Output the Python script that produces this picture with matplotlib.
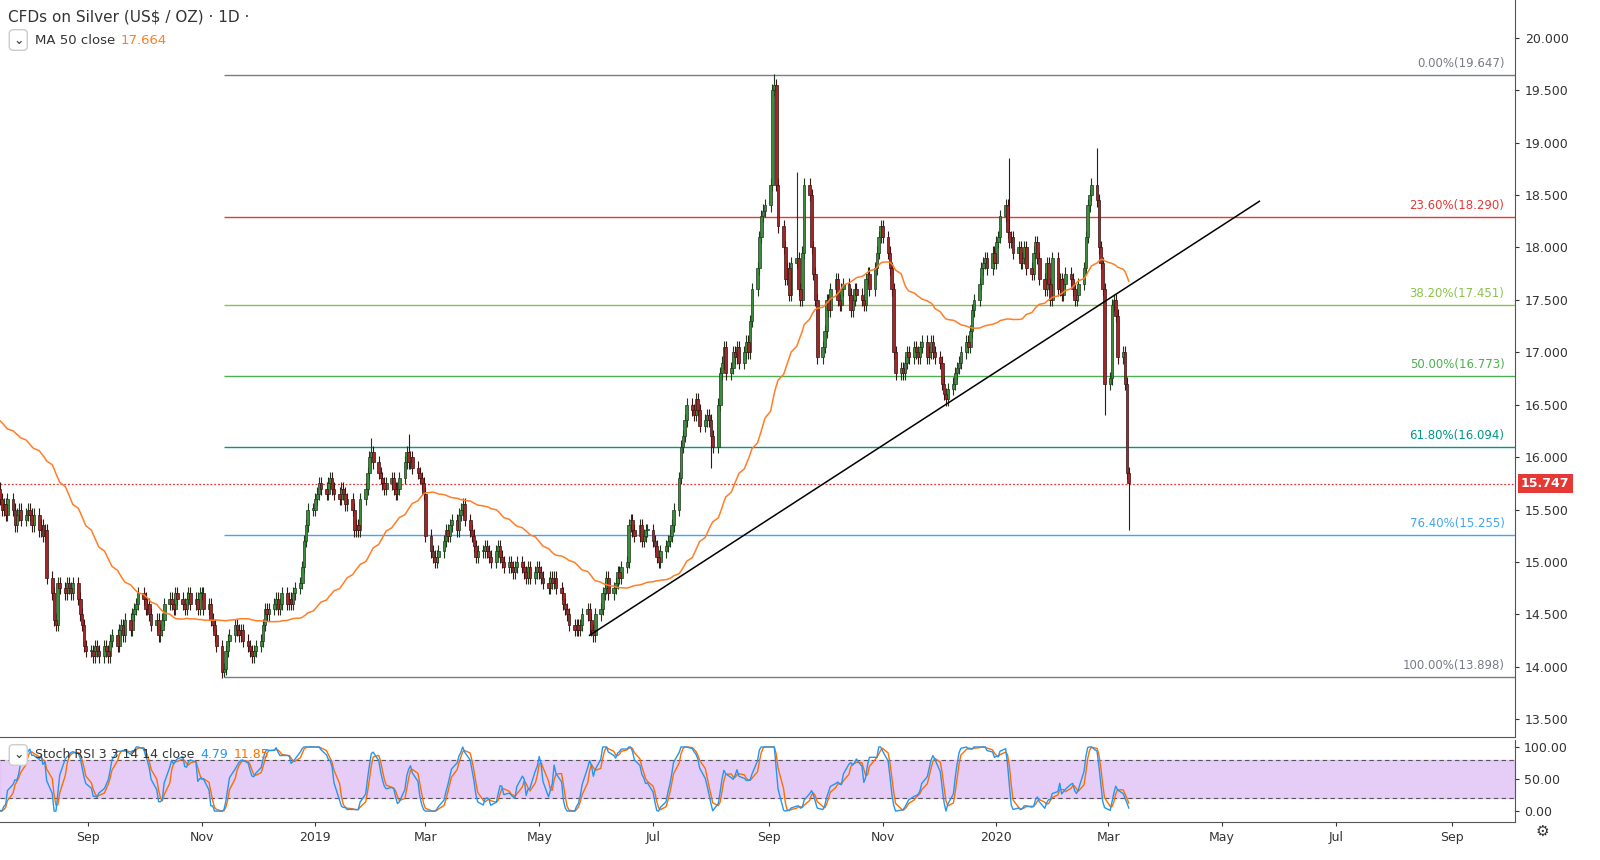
import numpy as np
import pandas as pd
import matplotlib
matplotlib.use("Agg")
import matplotlib.pyplot as plt
import matplotlib.dates as mdates
import matplotlib.transforms as mtrans

# ---------------- data (daily closes, by month) ----------------
months = {
 "2018-04": [16.35,16.30,16.35,16.40,16.30,16.45,16.50,16.60,16.70,16.65,16.55,16.60,16.65,16.70,16.55,16.45,16.50,16.40,16.45,16.30,16.30],
 "2018-05": [16.25,16.30,16.45,16.40,16.35,16.40,16.50,16.55,16.60,16.35,16.20,16.25,16.20,16.40,16.50,16.55,16.45,16.40,16.35,16.40,16.45,16.40,16.45],
 "2018-06": [16.40,16.45,16.50,16.60,16.80,16.85,16.75,16.85,16.80,16.90,17.00,16.60,16.40,16.45,16.35,16.30,16.25,16.20,16.20,16.15,16.10],
 "2018-07": [16.05,16.00,16.00,16.05,16.05,16.10,15.95,15.80,15.75,15.70,15.60,15.50,15.55,15.45,15.60,15.50,15.35,15.45,15.50,15.40,15.45,15.50],
 "2018-08": [15.45,15.35,15.45,15.30,15.35,15.25,15.30,14.85,14.70,14.45,14.40,14.80,14.75,14.70,14.80,14.75,14.70,14.80,14.65,14.50,14.40,14.20,14.15],
 "2018-09": [14.15,14.10,14.20,14.15,14.10,14.20,14.15,14.10,14.25,14.30,14.20,14.35,14.40,14.30,14.45,14.35,14.50,14.55,14.60,14.70],
 "2018-10": [14.65,14.55,14.60,14.50,14.40,14.45,14.30,14.35,14.45,14.60,14.65,14.60,14.55,14.70,14.65,14.60,14.55,14.65,14.70,14.60,14.65,14.55,14.70],
 "2018-11": [14.70,14.55,14.60,14.45,14.40,14.30,14.20,13.95,13.98,14.15,14.25,14.30,14.40,14.35,14.30,14.35,14.25,14.20,14.15,14.10,14.15,14.20],
 "2018-12": [14.25,14.40,14.55,14.50,14.55,14.60,14.65,14.55,14.60,14.70,14.60,14.65,14.60,14.70,14.75,14.80,14.95,15.20,15.35,15.50,15.50],
 "2019-01": [15.60,15.65,15.75,15.70,15.65,15.75,15.80,15.70,15.65,15.60,15.70,15.65,15.55,15.60,15.50,15.30,15.35,15.30,15.60,15.70,15.85,16.00,16.05],
 "2019-02": [15.95,15.85,15.80,15.75,15.70,15.75,15.80,15.70,15.65,15.70,15.80,15.95,16.05,15.95,16.00,15.90,15.85,15.80,15.75,15.65],
 "2019-03": [15.25,15.10,15.05,15.00,15.05,15.10,15.20,15.30,15.25,15.35,15.40,15.30,15.45,15.50,15.55,15.40,15.30,15.25,15.15,15.05,15.10],
 "2019-04": [15.10,15.15,15.10,15.05,15.00,15.10,15.15,15.05,15.00,14.95,15.00,14.95,14.90,14.95,15.00,14.95,14.90,14.85,14.95,14.85,14.90,14.95],
 "2019-05": [14.90,14.85,14.80,14.75,14.85,14.80,14.85,14.75,14.70,14.60,14.55,14.50,14.40,14.35,14.40,14.35,14.40,14.50,14.55,14.45,14.35,14.30,14.50],
 "2019-06": [14.55,14.70,14.75,14.85,14.70,14.75,14.80,14.90,14.85,14.95,15.00,15.35,15.40,15.30,15.25,15.35,15.20,15.25,15.30,15.30],
 "2019-07": [15.20,15.15,15.05,15.00,15.10,15.15,15.20,15.25,15.35,15.50,15.80,16.10,16.20,16.35,16.50,16.45,16.40,16.55,16.45,16.30,16.35,16.40,16.35],
 "2019-08": [16.20,16.10,16.50,16.80,16.90,17.05,16.80,16.85,17.00,16.95,17.05,16.90,17.00,17.10,17.00,17.30,17.60,17.80,18.10,18.30,18.35,18.40],
 "2019-09": [18.60,19.50,19.55,18.60,18.20,18.00,17.70,17.80,17.55,17.85,17.90,17.60,17.50,17.95,18.60,18.50,18.00,17.75,17.50,16.95,17.05],
 "2019-10": [17.20,17.50,17.40,17.60,17.70,17.50,17.45,17.60,17.65,17.55,17.40,17.50,17.60,17.55,17.50,17.45,17.70,17.75,17.60,17.80,17.95,18.10,18.20],
 "2019-11": [18.10,17.95,17.80,17.60,17.00,16.80,16.85,16.80,16.90,17.00,16.95,17.05,17.00,16.95,17.05,17.10,16.95,17.00,17.10,17.00,16.95],
 "2019-12": [16.90,16.70,16.60,16.55,16.65,16.70,16.80,16.85,16.90,17.00,17.10,17.05,17.20,17.40,17.50,17.65,17.80,17.85,17.90,17.80,17.95,17.85],
 "2020-01": [18.05,18.10,18.30,18.40,18.15,18.05,18.10,17.95,18.00,17.85,17.90,18.00,17.80,17.75,17.95,18.05,17.90,17.70,17.60,17.85,17.65,17.50,17.90],
 "2020-02": [17.60,17.70,17.55,17.65,17.75,17.70,17.60,17.50,17.55,17.65,17.80,18.10,18.40,18.50,18.60,18.45,18.00,17.85,17.60,16.70],
 "2020-03": [16.75,17.45,17.50,17.35,16.95,17.00,16.70,15.85,15.75],
}
spike_high = {"2019-09-04": 19.65, "2020-01-08": 18.85, "2020-02-24": 18.95,
              "2019-02-20": 16.22, "2019-01-31": 16.18, "2019-09-16": 18.72}
spike_low = {"2018-11-13": 13.90, "2020-03-12": 15.30, "2020-02-28": 16.40,
             "2019-05-28": 14.30, "2019-08-01": 15.90}

fib_levels = [0.0, 23.6, 38.2, 50.0, 61.8, 76.4, 100.0]
fib_prices = [19.647, 18.290, 17.451, 16.773, 16.094, 15.255, 13.898]
fib_colors = ["#787b86", "#e53935", "#8bc34a", "#4caf50", "#009688", "#42a5f5", "#787b86"]
fib_start = "2018-11-13"
trend_pts = [("2019-05-28", 14.30), ("2020-05-21", 18.44)]
last_price = 15.747
ma_value_text = "17.664"
stoch_k_text, stoch_d_text = "4.79", "11.85"
month_ticks = ["2018-09-01","2018-11-01","2019-01-01","2019-03-01","2019-05-01","2019-07-01",
               "2019-09-01","2019-11-01","2020-01-01","2020-03-01","2020-05-01","2020-07-01","2020-09-01"]
month_labels = ["Sep","Nov","2019","Mar","May","Jul","Sep","Nov","2020","Mar","May","Jul","Sep"]

# ---------------- build series ----------------
dates, closes = [], []
for m, vals in months.items():
    start = pd.Timestamp(m + "-01")
    bd = pd.bdate_range(start, start + pd.offsets.MonthEnd(0))
    n = min(len(bd), len(vals))
    dates += list(bd[:n]); closes += vals[:n]
df = pd.DataFrame({"close": closes}, index=pd.DatetimeIndex(dates))
df["open"] = df["close"].shift(1).fillna(df["close"])
wick = 0.06
df["high"] = df[["open", "close"]].max(axis=1) + wick
df["low"] = df[["open", "close"]].min(axis=1) - wick
for d, v in spike_high.items():
    if pd.Timestamp(d) in df.index: df.loc[pd.Timestamp(d), "high"] = v
for d, v in spike_low.items():
    if pd.Timestamp(d) in df.index: df.loc[pd.Timestamp(d), "low"] = v
df["ma50"] = df["close"].rolling(50, min_periods=1).mean()

delta = df["close"].diff()
up = delta.clip(lower=0).ewm(alpha=1/14, adjust=False).mean()
dn = (-delta.clip(upper=0)).ewm(alpha=1/14, adjust=False).mean()
rsi = 100 - 100 / (1 + up / dn.replace(0, 1e-9))
st = (rsi - rsi.rolling(14).min()) / (rsi.rolling(14).max() - rsi.rolling(14).min()) * 100
k = st.rolling(3).mean(); dline = k.rolling(3).mean()

# ---------------- figure ----------------
W, H = 1600, 860
fig = plt.figure(figsize=(16, 8.6), dpi=100)
plt.rcParams["font.family"] = ["DejaVu Sans"]
ax = fig.add_axes([0, 123/H, 1515/W, 737/H])
ax2 = fig.add_axes([0, 38/H, 1515/W, 82/H], sharex=ax)

x = mdates.date2num(df.index.to_pydatetime())
upc = df["close"] >= df["open"]
for col_up, col, edge in [(True, "#3d8b3d", "#1e3a1e"), (False, "#a02828", "#3a1414")]:
    msk = (upc == col_up).values
    ax.vlines(x[msk], df["low"].values[msk], df["high"].values[msk], color=edge, lw=0.8, zorder=3)
    bottom = np.minimum(df["open"].values, df["close"].values)[msk]
    height = np.maximum(np.abs(df["close"].values - df["open"].values)[msk], 0.012)
    ax.bar(x[msk], height, bottom=bottom, width=1.45, color=col, edgecolor=edge, lw=0.5, zorder=4)

ax.plot(x, df["ma50"].values, color="#ff7f27", lw=1.1, zorder=5)

xs = mdates.date2num(pd.Timestamp(fib_start))
xr = mdates.date2num(pd.Timestamp("2020-10-05"))
blend = mtrans.blended_transform_factory(ax.transAxes, ax.transData)
for lv, p, c in zip(fib_levels, fib_prices, fib_colors):
    ax.hlines(p, xs, xr, color=c, lw=1.0, zorder=2)
    ax.text(0.993, p + 0.05, f"{lv:.2f}%({p:.3f})", transform=blend, ha="right", va="bottom",
            color=c, fontsize=8.5)

tx = [mdates.date2num(pd.Timestamp(d)) for d, _ in trend_pts]
ax.plot(tx, [v for _, v in trend_pts], color="black", lw=1.1, zorder=6)

ax.axhline(last_price, color="#e53935", lw=0.9, ls=(0, (1.5, 1.5)), zorder=2)

ax.set_xlim(mdates.date2num(pd.Timestamp("2018-07-16")), xr)
ax.set_ylim(13.33, 20.36)
ax.yaxis.tick_right()
ax.set_yticks(np.arange(13.5, 20.01, 0.5))
ax.set_yticklabels([f"{v:.3f}" for v in np.arange(13.5, 20.01, 0.5)])
ax.tick_params(axis="y", labelsize=9, colors="#333333", length=3, pad=4)
ax.tick_params(axis="x", bottom=False, labelbottom=False)
for s in ["top", "left"]:
    ax.spines[s].set_visible(False)
ax.spines["right"].set_color("#555555")
ax.spines["bottom"].set_color("#555555")
ax.text(1.004, last_price, "15.747", transform=blend, ha="left", va="center", color="white",
        fontsize=9, fontweight="bold", clip_on=False,
        bbox=dict(boxstyle="square,pad=0.25", fc="#e53935", ec="none"))

fig.text(8/W, 1 - 17/H, "CFDs on Silver (US$ / OZ) · 1D ·", fontsize=11, color="#333333", va="center")
fig.text(13/W, 1 - 40/H, "⌄", fontsize=9, color="#333333", va="center",
         bbox=dict(boxstyle="round,pad=0.3", fc="white", ec="#cccccc"))
t_ma = fig.text(35/W, 1 - 40/H, "MA 50 close", fontsize=9.5, color="#333333", va="center")
ax.annotate(ma_value_text, xy=(1, 0.5), xycoords=t_ma, xytext=(4, 0), textcoords="offset points",
            va="center", ha="left", fontsize=9.5, color="#ff7f27", annotation_clip=False)

# stoch pane
ax2.axhspan(20, 80, color="#dcb8f5", alpha=0.7, zorder=0)
ax2.axhline(80, color="#555555", lw=0.8, ls=(0, (4, 3)))
ax2.axhline(20, color="#555555", lw=0.8, ls=(0, (4, 3)))
ax2.plot(x, dline.values, color="#ff6d00", lw=1.0)
ax2.plot(x, k.values, color="#2196f3", lw=1.0)
ax2.set_ylim(-17, 110.9)
ax2.yaxis.tick_right()
ax2.set_yticks([0, 50, 100])
ax2.set_yticklabels(["0.00", "50.00", "100.00"])
ax2.tick_params(axis="y", labelsize=9, colors="#333333", length=3)
ax2.set_xticks([mdates.date2num(pd.Timestamp(d)) for d in month_ticks])
ax2.set_xticklabels(month_labels)
ax2.tick_params(axis="x", labelsize=9, colors="#333333", length=3)
for s in ["top", "left"]:
    ax2.spines[s].set_visible(False)
ax2.spines["right"].set_color("#555555")
ax2.spines["bottom"].set_color("#555555")
fig.text(13/W, 1 - 755/H, "⌄", fontsize=9, color="#333333", va="center",
         bbox=dict(boxstyle="round,pad=0.3", fc="white", ec="#cccccc"))
t_st = fig.text(35/W, 1 - 755/H, "Stoch RSI 3 3 14 14 close", fontsize=9, color="#333333", va="center")
a_k = ax2.annotate(stoch_k_text, xy=(1, 0.5), xycoords=t_st, xytext=(4, 0), textcoords="offset points",
                   va="center", ha="left", fontsize=9, color="#2196f3", annotation_clip=False)
ax2.annotate(stoch_d_text, xy=(1, 0.5), xycoords=a_k, xytext=(4, 0), textcoords="offset points",
             va="center", ha="left", fontsize=9, color="#ff6d00", annotation_clip=False)
fig.text(1542/W, 1 - 831/H, "⚙", fontsize=11, color="#333333", ha="center", va="center")

fig.savefig("out.png", dpi=100)
